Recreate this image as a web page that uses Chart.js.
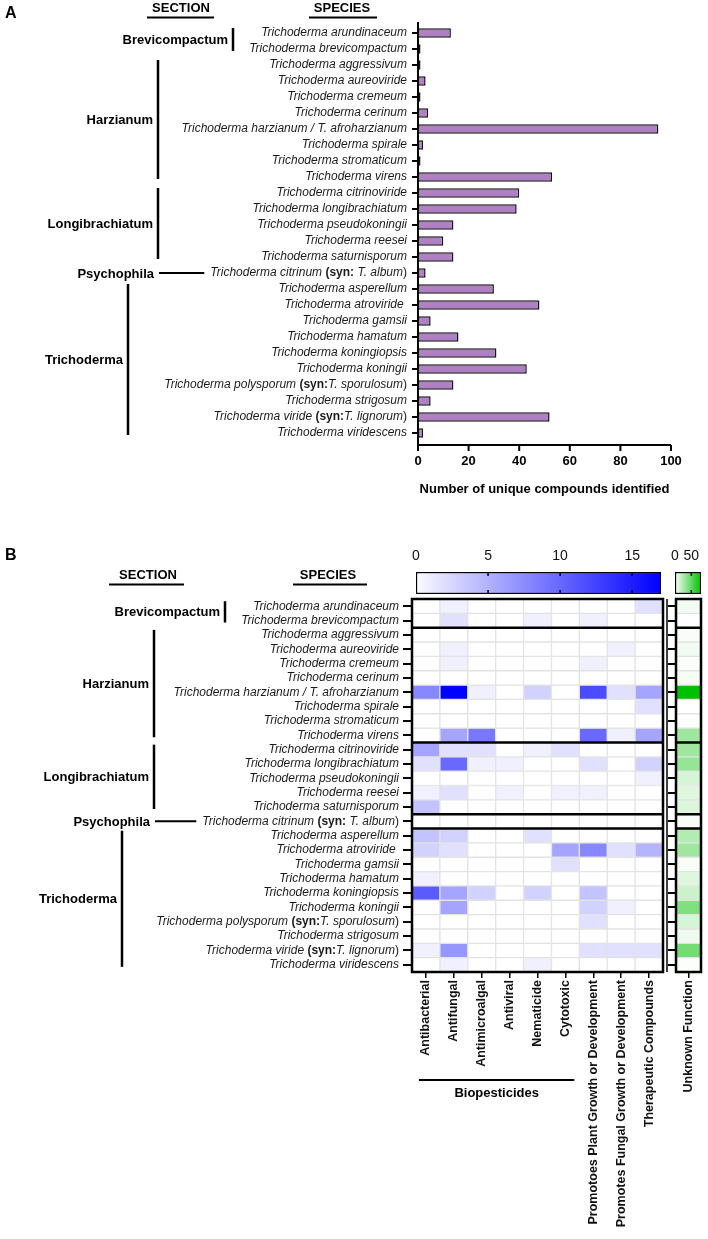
<!DOCTYPE html>
<html>
<head>
<meta charset="utf-8">
<script src="https://cdn.jsdelivr.net/npm/chart.js@4.4.0/dist/chart.umd.min.js"></script>
<style>
  html, body { margin: 0; padding: 0; background: #fff; }
  #page { position: relative; width: 708px; height: 1239px; overflow: hidden; }
  canvas { position: absolute; }
</style>
</head>
<body>
<div id="page">
  <canvas id="barChart" width="708" height="500" style="left:0;top:0"></canvas>
  <canvas id="heatChart" width="708" height="699" style="left:0;top:540px"></canvas>
  <canvas id="unknownChart" width="68" height="699" style="left:640px;top:540px"></canvas>
  <canvas id="heatScale" width="285" height="64" style="left:390px;top:536px"></canvas>
  <canvas id="unknownScale" width="53" height="64" style="left:655px;top:536px"></canvas>
</div>
<script>
// ---- data ----
const species = [
  'Trichoderma arundinaceum', 'Trichoderma brevicompactum', 'Trichoderma aggressivum',
  'Trichoderma aureoviride', 'Trichoderma cremeum', 'Trichoderma cerinum',
  'Trichoderma harzianum / T. afroharzianum', 'Trichoderma spirale', 'Trichoderma stromaticum',
  'Trichoderma virens', 'Trichoderma citrinoviride', 'Trichoderma longibrachiatum',
  'Trichoderma pseudokoningii', 'Trichoderma reesei', 'Trichoderma saturnisporum',
  'Trichoderma citrinum (syn: T. album)', 'Trichoderma asperellum', 'Trichoderma atroviride ',
  'Trichoderma gamsii', 'Trichoderma hamatum', 'Trichoderma koningiopsis', 'Trichoderma koningii',
  'Trichoderma polysporum (syn:T. sporulosum)', 'Trichoderma strigosum',
  'Trichoderma viride (syn:T. lignorum)', 'Trichoderma viridescens'
];
const sections = ['Brevicompactum', 'Harzianum', 'Longibrachiatum', 'Psychophila', 'Trichoderma'];
const sectionFirst = [0, 2, 10, 15, 16];
const sectionLast = [1, 9, 14, 15, 25];

const compounds = [13, 1, 1, 3, 1, 4, 95, 2, 1, 53, 40, 39, 14, 10, 14, 3, 30, 48, 5, 16, 31, 43, 14, 5, 52, 2];
const compoundTicks = [0, 20, 40, 60, 80, 100];

const functions = ['Antibacterial', 'Antifungal', 'Antimicroalgal', 'Antiviral', 'Nematicide', 'Cytotoxic',
  'Promotoes Plant Growth or Development', 'Promotes Fungal Growth or Development', 'Therapeutic Compounds'];
const biopesticides = functions.slice(0, 6);

const antibacterial  = [0, 0, 0, 0, 0, 0, 8, 0, 0, 0, 6, 2, 0, 1, 4, 0, 4, 3, 0, 1, 11, 0, 0, 0, 1, 0];
const antifungal     = [1, 2, 0, 1, 1, 0, 17, 0, 0, 6, 2, 10, 0, 2, 0, 0, 3, 2, 0, 0, 6, 6, 0, 0, 7, 1];
const antimicroalgal = [0, 0, 0, 0, 0, 0, 1, 0, 0, 9, 2, 1, 0, 0, 0, 0, 0, 0, 0, 0, 3, 0, 0, 0, 0, 0];
const antiviral      = [0, 0, 0, 0, 0, 0, 0, 0, 0, 0, 0, 1, 0, 1, 0, 0, 0, 0, 0, 0, 0, 0, 0, 0, 0, 0];
const nematicide     = [0, 1, 0, 0, 0, 0, 3, 0, 0, 0, 1, 0, 0, 0, 0, 0, 2, 0, 0, 0, 3, 0, 0, 0, 0, 1];
const cytotoxic      = [0, 0, 0, 0, 0, 0, 0, 0, 0, 0, 2, 0, 0, 1, 0, 0, 0, 6, 2, 0, 0, 0, 0, 0, 0, 0];
const plantGrowth    = [0, 1, 0, 0, 1, 0, 12, 0, 0, 10, 0, 2, 0, 1, 0, 0, 0, 8, 0, 0, 4, 3, 2, 0, 2, 0];
const fungalGrowth   = [0, 0, 0, 1, 0, 0, 2, 0, 0, 1, 0, 0, 0, 0, 0, 0, 0, 2, 0, 0, 0, 1, 0, 0, 2, 0];
const therapeutic    = [2, 0, 0, 0, 0, 0, 6, 2, 0, 6, 0, 3, 1, 0, 0, 0, 0, 5, 0, 0, 0, 0, 0, 0, 2, 0];
const unknownFunction = [4, 0, 2, 4, 1, 3, 80, 0, 1, 30, 30, 33, 13, 10, 11, 2, 24, 30, 2, 10, 16, 40, 13, 5, 44, 1];

const heatMax = 17;
const heatTicks = [0, 5, 10, 15];
const unknownMax = 80;
const unknownTicks = [0, 50];

const heat = [antibacterial, antifungal, antimicroalgal, antiviral, nematicide, cytotoxic,
  plantGrowth, fungalGrowth, therapeutic];

// ---- helpers ----
const SANS = '"Liberation Sans", Arial, Helvetica, sans-serif';
const NARROW = '"Liberation Sans Narrow", "Arial Narrow", ' + SANS;
Chart.defaults.font.family = SANS;
Chart.defaults.color = '#000';

function shade(v, max, rgb) {
  const t = Math.min(v / max, 1);
  const mix = c => Math.round(255 + (c - 255) * t);
  return 'rgb(' + mix(rgb[0]) + ',' + mix(rgb[1]) + ',' + mix(rgb[2]) + ')';
}

function labelParts(name) {
  const m = name.match(/^(.*?) (\(syn:\s?)(.*)(\))$/);
  if (!m) return [[name, 'italic']];
  return [[m[1] + ' ', 'italic'], [m[2], 'bold'], [m[3], 'italic'], [m[4], 'normal']];
}

// draws a species name right-aligned, returns where it starts
function drawSpecies(ctx, name, right, y) {
  const parts = labelParts(name);
  const fontOf = s => (s === 'italic' ? 'italic ' : s === 'bold' ? 'bold ' : '') + '12px ' + SANS;
  let w = 0;
  parts.forEach(p => { ctx.font = fontOf(p[1]); w += ctx.measureText(p[0]).width; });
  let x = right - w;
  ctx.textAlign = 'left';
  ctx.textBaseline = 'middle';
  ctx.fillStyle = '#1b1b1b';
  parts.forEach(p => { ctx.font = fontOf(p[1]); ctx.fillText(p[0], x, y); x += ctx.measureText(p[0]).width; });
  return right - w;
}

function drawSections(ctx, rowY, bracketX, labelStarts) {
  ctx.strokeStyle = '#000';
  ctx.fillStyle = '#000';
  sections.forEach((name, k) => {
    const a = sectionFirst[k], b = sectionLast[k], bx = bracketX[k];
    let mid;
    ctx.beginPath();
    if (a === b) {
      mid = rowY(a);
      ctx.lineWidth = 2;
      ctx.moveTo(bx, mid);
      ctx.lineTo(labelStarts[a] - 6, mid);
    } else {
      const y0 = rowY(a) - 5, y1 = rowY(b) + 2;
      mid = (y0 + y1) / 2;
      ctx.lineWidth = 2.5;
      ctx.moveTo(bx, y0);
      ctx.lineTo(bx, y1);
    }
    ctx.stroke();
    ctx.font = 'bold 13px ' + SANS;
    ctx.textAlign = 'right';
    ctx.textBaseline = 'middle';
    ctx.fillText(name, bx - 5, mid + 1);
  });
}

function drawHeader(ctx, text, cx, y, x0, x1) {
  ctx.font = 'bold 13px ' + SANS;
  ctx.textAlign = 'center';
  ctx.textBaseline = 'middle';
  ctx.fillStyle = '#000';
  ctx.fillText(text, cx, y);
  ctx.lineWidth = 2;
  ctx.beginPath();
  ctx.moveTo(x0, y + 9.5);
  ctx.lineTo(x1, y + 9.5);
  ctx.stroke();
}

function drawPanelLetter(ctx, letter, y) {
  ctx.font = 'bold 16px ' + SANS;
  ctx.textAlign = 'left';
  ctx.textBaseline = 'middle';
  ctx.fillStyle = '#000';
  ctx.fillText(letter, 5, y);
}

// ---- panel A ----
const barDecor = {
  id: 'barDecor',
  afterDatasetsDraw(chart) {
    const { ctx, chartArea: area, scales: { x, y } } = chart;
    const x0 = x.getPixelForValue(0);
    const axisY = area.bottom + 4;
    ctx.save();
    ctx.strokeStyle = '#000';
    ctx.lineWidth = 2;
    ctx.beginPath();
    ctx.moveTo(x0, area.top - 3);
    ctx.lineTo(x0, axisY);
    ctx.lineTo(x.getPixelForValue(100), axisY);
    compoundTicks.forEach(v => {
      const px = x.getPixelForValue(v);
      ctx.moveTo(px, axisY);
      ctx.lineTo(px, axisY + 6);
    });
    species.forEach((s, i) => {
      const py = y.getPixelForValue(i);
      ctx.moveTo(x0 - 6, py);
      ctx.lineTo(x0, py);
    });
    ctx.stroke();

    const starts = species.map((s, i) => drawSpecies(ctx, s, x0 - 11, y.getPixelForValue(i)));
    drawSections(ctx, i => y.getPixelForValue(i), [233, 158, 158, 159, 128], starts);
    drawHeader(ctx, 'SECTION', 181, 8, 147, 214);
    drawHeader(ctx, 'SPECIES', 342, 8, 309, 377);
    drawPanelLetter(ctx, 'A', 14);
    ctx.restore();
  }
};

new Chart(document.getElementById('barChart'), {
  type: 'bar',
  data: {
    labels: species,
    datasets: [{
      data: compounds,
      backgroundColor: '#b07fc6',
      borderColor: '#151515',
      borderWidth: 1.5,
      borderSkipped: false,
      barPercentage: 0.6,
      categoryPercentage: 1
    }]
  },
  options: {
    indexAxis: 'y',
    responsive: false,
    animation: false,
    layout: { padding: { top: 25, right: 37, left: 0, bottom: 0 } },
    plugins: { legend: { display: false }, tooltip: { enabled: false } },
    scales: {
      x: {
        min: 0, max: 100,
        afterBuildTicks: s => { s.ticks = compoundTicks.map(v => ({ value: v })); },
        grid: { display: false, drawTicks: false },
        border: { display: false },
        ticks: { padding: 13, font: { weight: 'bold', size: 13 }, color: '#000' },
        title: {
          display: true, text: 'Number of unique compounds identified',
          font: { weight: 'bold', size: 13 }, color: '#000', padding: { top: 0, bottom: 3 }
        },
        afterFit: s => { s.height = 59; }
      },
      y: {
        grid: { display: false, drawTicks: false },
        border: { display: false },
        ticks: { display: false },
        afterFit: s => { s.width = 418; }
      }
    }
  },
  plugins: [barDecor]
});

// ---- panel B ----
function boxLines(chart) {
  const { ctx, chartArea: a, scales: { y } } = chart;
  ctx.strokeStyle = '#000';
  ctx.lineWidth = 2.5;
  ctx.strokeRect(a.left, a.top, a.right - a.left, a.bottom - a.top);
  ctx.beginPath();
  sectionFirst.slice(1).forEach(r => {
    const py = y.getPixelForValue(r);
    ctx.moveTo(a.left, py);
    ctx.lineTo(a.right, py);
  });
  ctx.stroke();
}

const heatDecor = {
  id: 'heatDecor',
  afterDatasetsDraw(chart) {
    const { ctx, chartArea: a, scales: { x, y } } = chart;
    ctx.save();
    boxLines(chart);
    const rowY = i => y.getPixelForValue(i + 0.5);
    const starts = species.map((s, i) => drawSpecies(ctx, s, a.left - 13, rowY(i)));
    drawSections(ctx, rowY, [225, 154, 154, 155, 122], starts);
    drawHeader(ctx, 'SECTION', 148, 35, 109, 184);
    drawHeader(ctx, 'SPECIES', 328, 35, 293, 367);
    drawPanelLetter(ctx, 'B', 16);

    // biopesticides group
    const gx0 = x.getPixelForValue(0) - 7;
    const gx1 = x.getPixelForValue(biopesticides.length - 1) + 9;
    ctx.lineWidth = 2;
    ctx.beginPath();
    ctx.moveTo(gx0, a.bottom + 108);
    ctx.lineTo(gx1, a.bottom + 108);
    ctx.stroke();
    ctx.font = 'bold 13px ' + SANS;
    ctx.textAlign = 'center';
    ctx.textBaseline = 'middle';
    ctx.fillStyle = '#000';
    ctx.fillText('Biopesticides', (gx0 + gx1) / 2, a.bottom + 121);
    ctx.restore();
  }
};

const unknownDecor = {
  id: 'unknownDecor',
  afterDatasetsDraw(chart) {
    const { ctx, chartArea: a } = chart;
    ctx.save();
    boxLines(chart);
    ctx.lineWidth = 1.5;
    ctx.beginPath();
    ctx.moveTo(a.left - 9, a.top);
    ctx.lineTo(a.left - 9, a.bottom);
    ctx.stroke();
    ctx.restore();
  }
};

function heatScales(yWidth, tickLen) {
  return {
    x: {
      offset: true,
      grid: { offset: false, drawOnChartArea: false, tickLength: 6, color: '#000', lineWidth: 1.5 },
      border: { display: false },
      ticks: { minRotation: 90, maxRotation: 90, padding: 2, autoSkip: false, font: { weight: 'bold', size: 12.5 }, color: '#111' },
      afterFit: s => { s.height = 267; }
    },
    y: {
      min: 0, max: species.length, reverse: true, bounds: 'data',
      afterBuildTicks: s => { s.ticks = species.map((_, i) => ({ value: i + 0.5 })); },
      grid: { drawOnChartArea: false, tickLength: tickLen, color: '#000', lineWidth: 2 },
      border: { display: false },
      ticks: { display: false },
      afterFit: s => { s.width = yWidth; }
    }
  };
}

new Chart(document.getElementById('heatChart'), {
  type: 'bar',
  data: {
    labels: functions,
    datasets: species.map((s, i) => ({
      data: functions.map(() => [i, i + 1]),
      backgroundColor: heat.map(col => shade(col[i], heatMax, [0, 0, 255])),
      borderColor: '#e3e3e3',
      borderWidth: 1,
      borderSkipped: false,
      barPercentage: 1,
      categoryPercentage: 1,
      grouped: false
    }))
  },
  options: {
    responsive: false,
    animation: false,
    layout: { padding: { top: 59, right: 45, left: 0, bottom: 0 } },
    plugins: { legend: { display: false }, tooltip: { enabled: false } },
    scales: heatScales(412, 9)
  },
  plugins: [heatDecor]
});

new Chart(document.getElementById('unknownChart'), {
  type: 'bar',
  data: {
    labels: ['Unknown Function'],
    datasets: species.map((s, i) => ({
      data: [[i, i + 1]],
      backgroundColor: shade(unknownFunction[i], unknownMax, [0, 192, 0]),
      borderColor: '#e3e3e3',
      borderWidth: 1,
      borderSkipped: false,
      barPercentage: 1,
      categoryPercentage: 1,
      grouped: false
    }))
  },
  options: {
    responsive: false,
    animation: false,
    layout: { padding: { top: 59, right: 5, left: 0, bottom: 0 } },
    plugins: { legend: { display: false }, tooltip: { enabled: false } },
    scales: heatScales(36, 8)
  },
  plugins: [unknownDecor]
});

// ---- colour scales ----
const innerTicks = {
  id: 'innerTicks',
  afterDatasetsDraw(chart) {
    const { ctx, chartArea: a, scales: { x } } = chart;
    ctx.save();
    ctx.strokeStyle = '#000';
    ctx.lineWidth = 1.5;
    ctx.beginPath();
    x.ticks.forEach(t => {
      if (t.value === x.min) return;
      const px = x.getPixelForValue(t.value);
      ctx.moveTo(px, a.top);
      ctx.lineTo(px, a.top + 4);
      ctx.moveTo(px, a.bottom);
      ctx.lineTo(px, a.bottom - 4);
    });
    ctx.stroke();
    ctx.restore();
  }
};

function colourScale(id, max, ticks, rgb, left, right) {
  new Chart(document.getElementById(id), {
    type: 'bar',
    data: {
      labels: [''],
      datasets: [{
        data: [[0, max]],
        backgroundColor: c => {
          const a = c.chart.chartArea;
          if (!a) return null;
          const g = c.chart.ctx.createLinearGradient(a.left, 0, a.right, 0);
          g.addColorStop(0, shade(0.3, max, rgb));
          g.addColorStop(1, shade(max, max, rgb));
          return g;
        },
        borderColor: '#000',
        borderWidth: 1.5,
        borderSkipped: false,
        barPercentage: 1,
        categoryPercentage: 1
      }]
    },
    options: {
      indexAxis: 'y',
      responsive: false,
      animation: false,
      layout: { padding: { top: 0, left: left, right: right, bottom: 6 } },
      plugins: { legend: { display: false }, tooltip: { enabled: false } },
      scales: {
        x: {
          position: 'top', min: 0, max: max,
          afterBuildTicks: s => { s.ticks = ticks.map(v => ({ value: v })); },
          grid: { display: false, drawTicks: false },
          border: { display: false },
          ticks: { padding: 7, autoSkip: false, maxRotation: 0, font: { size: 14, family: NARROW }, color: '#111' },
          afterFit: s => { s.height = 36; }
        },
        y: { display: false }
      }
    },
    plugins: [innerTicks]
  });
}

colourScale('heatScale', heatMax, heatTicks, [0, 0, 255], 26, 14);
colourScale('unknownScale', unknownMax, unknownTicks, [0, 192, 0], 20, 5);
</script>
</body>
</html>
